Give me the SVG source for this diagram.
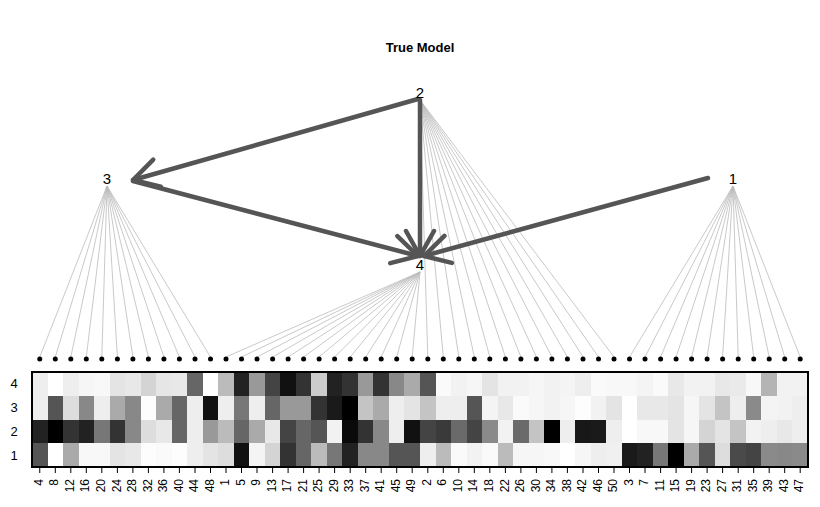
<svg xmlns="http://www.w3.org/2000/svg" width="820" height="507" viewBox="0 0 820 507">
<style>
text{font-family:"Liberation Sans",Arial,sans-serif;fill:#000}
.n{font-size:15px;text-anchor:middle}
.c{font-size:12px;text-anchor:end;dominant-baseline:middle}
.r{font-size:13px;text-anchor:middle;fill:#000}
.fl{stroke:#bbb;stroke-width:0.8}
.e{stroke:#555;stroke-width:4.5;fill:none;marker-end:url(#ah);stroke-linecap:round}
.t{stroke:#000;stroke-width:1}
</style>
<defs>
<marker id="ah" markerUnits="userSpaceOnUse" markerWidth="60" markerHeight="60" viewBox="-40 -30 60 60" refX="0" refY="0" orient="auto" overflow="visible">
<path d="M-25,-14 L0,0 L-25,14" stroke="#555" stroke-width="4.5" fill="none" stroke-linecap="round" stroke-linejoin="round"/>
</marker>
</defs>
<rect width="820" height="507" fill="#fff"/>
<text x="420" y="52" style="font-size:13px;font-weight:bold;text-anchor:middle">True Model</text>
<g id="fan-lines" class="fl">
<path d="M107,186L39.76,357M107,186L55.3,357M107,186L70.8,357M107,186L86.3,357M107,186L101.8,357M107,186L117.4,357M107,186L132.9,357M107,186L148.4,357M107,186L163.9,357M107,186L179.4,357M107,186L195,357M107,186L210.5,357"/>
<path d="M420,272L226,357M420,272L241.5,357M420,272L257,357M420,272L272.6,357M420,272L288.1,357M420,272L303.6,357M420,272L319.1,357M420,272L334.6,357M420,272L350.2,357M420,272L365.7,357M420,272L381.2,357M420,272L396.7,357M420,272L412.2,357"/>
<path d="M420,100L427.8,357M420,100L443.3,357M420,100L458.8,357M420,100L474.3,357M420,100L489.8,357M420,100L505.4,357M420,100L520.9,357M420,100L536.4,357M420,100L551.9,357M420,100L567.4,357M420,100L583,357M420,100L598.5,357M420,100L614,357"/>
<path d="M733,186L629.5,357M733,186L645,357M733,186L660.6,357M733,186L676.1,357M733,186L691.6,357M733,186L707.1,357M733,186L722.6,357M733,186L738.2,357M733,186L753.7,357M733,186L769.2,357M733,186L784.7,357M733,186L800.2,357"/>
</g>
<g id="connectors">
<line class="e" x1="418" y1="99" x2="133" y2="180"/>
<line class="e" x1="420" y1="100" x2="420" y2="256"/>
<line class="e" x1="133" y1="181" x2="418" y2="256"/>
<line class="e" x1="708" y1="178" x2="424" y2="256"/>
</g>
<g id="node-2"><text class="n" x="420" y="98">2</text></g>
<g id="node-3"><text class="n" x="107" y="184">3</text></g>
<g id="node-1"><text class="n" x="733" y="184">1</text></g>
<g id="node-4"><text class="n" x="420" y="270">4</text></g>
<g id="dots" fill="#000">
<circle cx="39.76" cy="359" r="2.5"/><circle cx="55.3" cy="359" r="2.5"/><circle cx="70.8" cy="359" r="2.5"/><circle cx="86.3" cy="359" r="2.5"/><circle cx="101.8" cy="359" r="2.5"/><circle cx="117.4" cy="359" r="2.5"/><circle cx="132.9" cy="359" r="2.5"/><circle cx="148.4" cy="359" r="2.5"/><circle cx="163.9" cy="359" r="2.5"/><circle cx="179.4" cy="359" r="2.5"/><circle cx="195" cy="359" r="2.5"/><circle cx="210.5" cy="359" r="2.5"/>
<circle cx="226" cy="359" r="2.5"/><circle cx="241.5" cy="359" r="2.5"/><circle cx="257" cy="359" r="2.5"/><circle cx="272.6" cy="359" r="2.5"/><circle cx="288.1" cy="359" r="2.5"/><circle cx="303.6" cy="359" r="2.5"/><circle cx="319.1" cy="359" r="2.5"/><circle cx="334.6" cy="359" r="2.5"/><circle cx="350.2" cy="359" r="2.5"/><circle cx="365.7" cy="359" r="2.5"/><circle cx="381.2" cy="359" r="2.5"/><circle cx="396.7" cy="359" r="2.5"/><circle cx="412.2" cy="359" r="2.5"/>
<circle cx="427.8" cy="359" r="2.5"/><circle cx="443.3" cy="359" r="2.5"/><circle cx="458.8" cy="359" r="2.5"/><circle cx="474.3" cy="359" r="2.5"/><circle cx="489.8" cy="359" r="2.5"/><circle cx="505.4" cy="359" r="2.5"/><circle cx="520.9" cy="359" r="2.5"/><circle cx="536.4" cy="359" r="2.5"/><circle cx="551.9" cy="359" r="2.5"/><circle cx="567.4" cy="359" r="2.5"/><circle cx="583" cy="359" r="2.5"/><circle cx="598.5" cy="359" r="2.5"/><circle cx="614" cy="359" r="2.5"/>
<circle cx="629.5" cy="359" r="2.5"/><circle cx="645" cy="359" r="2.5"/><circle cx="660.6" cy="359" r="2.5"/><circle cx="676.1" cy="359" r="2.5"/><circle cx="691.6" cy="359" r="2.5"/><circle cx="707.1" cy="359" r="2.5"/><circle cx="722.6" cy="359" r="2.5"/><circle cx="738.2" cy="359" r="2.5"/><circle cx="753.7" cy="359" r="2.5"/><circle cx="769.2" cy="359" r="2.5"/><circle cx="784.7" cy="359" r="2.5"/><circle cx="800.2" cy="359" r="2.5"/>
</g>
<g id="heatmap" shape-rendering="crispEdges">
<g transform="translate(32,0)"><rect y="372" width="15.6" height="23.8" fill="#eee"/><rect y="395.75" width="15.6" height="23.8" fill="#eee"/><rect y="419.5" width="15.6" height="23.8" fill="#222"/><rect y="443.25" width="15.6" height="23.8" fill="#555"/></g>
<g transform="translate(47.52,0)"><rect y="372" width="15.6" height="23.8" fill="#fff"/><rect y="395.75" width="15.6" height="23.8" fill="#555"/><rect y="419.5" width="15.6" height="23.8" fill="#000"/><rect y="443.25" width="15.6" height="23.8" fill="#fff"/></g>
<g transform="translate(63.04,0)"><rect y="372" width="15.6" height="23.8" fill="#eee"/><rect y="395.75" width="15.6" height="23.8" fill="#ddd"/><rect y="419.5" width="15.6" height="23.8" fill="#333"/><rect y="443.25" width="15.6" height="23.8" fill="#aaa"/></g>
<g transform="translate(78.56,0)"><rect y="372" width="15.6" height="23.8" fill="#f6f6f6"/><rect y="395.75" width="15.6" height="23.8" fill="#888"/><rect y="419.5" width="15.6" height="23.8" fill="#222"/><rect y="443.25" width="15.6" height="23.8" fill="#f8f8f8"/></g>
<g transform="translate(94.08,0)"><rect y="372" width="15.6" height="23.8" fill="#f8f8f8"/><rect y="395.75" width="15.6" height="23.8" fill="#eee"/><rect y="419.5" width="15.6" height="23.8" fill="#777"/><rect y="443.25" width="15.6" height="23.8" fill="#f8f8f8"/></g>
<g transform="translate(109.6,0)"><rect y="372" width="15.6" height="23.8" fill="#e4e4e4"/><rect y="395.75" width="15.6" height="23.8" fill="#aaa"/><rect y="419.5" width="15.6" height="23.8" fill="#333"/><rect y="443.25" width="15.6" height="23.8" fill="#e4e4e4"/></g>
<g transform="translate(125.12,0)"><rect y="372" width="15.6" height="23.8" fill="#e8e8e8"/><rect y="395.75" width="15.6" height="23.8" fill="#888"/><rect y="419.5" width="15.6" height="23.8" fill="#888"/><rect y="443.25" width="15.6" height="23.8" fill="#e8e8e8"/></g>
<g transform="translate(140.64,0)"><rect y="372" width="15.6" height="23.8" fill="#d4d4d4"/><rect y="395.75" width="15.6" height="23.8" fill="#fdfdfd"/><rect y="419.5" width="15.6" height="23.8" fill="#ddd"/><rect y="443.25" width="15.6" height="23.8" fill="#fdfdfd"/></g>
<g transform="translate(156.16,0)"><rect y="372" width="15.6" height="23.8" fill="#e6e6e6"/><rect y="395.75" width="15.6" height="23.8" fill="#aaa"/><rect y="419.5" width="15.6" height="23.8" fill="#e8e8e8"/><rect y="443.25" width="15.6" height="23.8" fill="#fafafa"/></g>
<g transform="translate(171.68,0)"><rect y="372" width="15.6" height="23.8" fill="#e8e8e8"/><rect y="395.75" width="15.6" height="23.8" fill="#666"/><rect y="419.5" width="15.6" height="23.8" fill="#666"/><rect y="443.25" width="15.6" height="23.8" fill="#fdfdfd"/></g>
<g transform="translate(187.2,0)"><rect y="372" width="15.6" height="23.8" fill="#666"/><rect y="395.75" width="15.6" height="23.8" fill="#eee"/><rect y="419.5" width="15.6" height="23.8" fill="#eee"/><rect y="443.25" width="15.6" height="23.8" fill="#eee"/></g>
<g transform="translate(202.72,0)"><rect y="372" width="15.6" height="23.8" fill="#fff"/><rect y="395.75" width="15.6" height="23.8" fill="#111"/><rect y="419.5" width="15.6" height="23.8" fill="#999"/><rect y="443.25" width="15.6" height="23.8" fill="#e4e4e4"/></g>
<g transform="translate(218.24,0)"><rect y="372" width="15.6" height="23.8" fill="#bbb"/><rect y="395.75" width="15.6" height="23.8" fill="#eee"/><rect y="419.5" width="15.6" height="23.8" fill="#bbb"/><rect y="443.25" width="15.6" height="23.8" fill="#ddd"/></g>
<g transform="translate(233.76,0)"><rect y="372" width="15.6" height="23.8" fill="#222"/><rect y="395.75" width="15.6" height="23.8" fill="#777"/><rect y="419.5" width="15.6" height="23.8" fill="#666"/><rect y="443.25" width="15.6" height="23.8" fill="#111"/></g>
<g transform="translate(249.28,0)"><rect y="372" width="15.6" height="23.8" fill="#999"/><rect y="395.75" width="15.6" height="23.8" fill="#eee"/><rect y="419.5" width="15.6" height="23.8" fill="#aaa"/><rect y="443.25" width="15.6" height="23.8" fill="#f4f4f4"/></g>
<g transform="translate(264.8,0)"><rect y="372" width="15.6" height="23.8" fill="#444"/><rect y="395.75" width="15.6" height="23.8" fill="#666"/><rect y="419.5" width="15.6" height="23.8" fill="#e8e8e8"/><rect y="443.25" width="15.6" height="23.8" fill="#d4d4d4"/></g>
<g transform="translate(280.32,0)"><rect y="372" width="15.6" height="23.8" fill="#111"/><rect y="395.75" width="15.6" height="23.8" fill="#999"/><rect y="419.5" width="15.6" height="23.8" fill="#444"/><rect y="443.25" width="15.6" height="23.8" fill="#333"/></g>
<g transform="translate(295.84,0)"><rect y="372" width="15.6" height="23.8" fill="#333"/><rect y="395.75" width="15.6" height="23.8" fill="#999"/><rect y="419.5" width="15.6" height="23.8" fill="#666"/><rect y="443.25" width="15.6" height="23.8" fill="#666"/></g>
<g transform="translate(311.36,0)"><rect y="372" width="15.6" height="23.8" fill="#ccc"/><rect y="395.75" width="15.6" height="23.8" fill="#333"/><rect y="419.5" width="15.6" height="23.8" fill="#555"/><rect y="443.25" width="15.6" height="23.8" fill="#bbb"/></g>
<g transform="translate(326.88,0)"><rect y="372" width="15.6" height="23.8" fill="#222"/><rect y="395.75" width="15.6" height="23.8" fill="#1a1a1a"/><rect y="419.5" width="15.6" height="23.8" fill="#f2f2f2"/><rect y="443.25" width="15.6" height="23.8" fill="#777"/></g>
<g transform="translate(342.4,0)"><rect y="372" width="15.6" height="23.8" fill="#333"/><rect y="395.75" width="15.6" height="23.8" fill="#000"/><rect y="419.5" width="15.6" height="23.8" fill="#0a0a0a"/><rect y="443.25" width="15.6" height="23.8" fill="#222"/></g>
<g transform="translate(357.92,0)"><rect y="372" width="15.6" height="23.8" fill="#999"/><rect y="395.75" width="15.6" height="23.8" fill="#c4c4c4"/><rect y="419.5" width="15.6" height="23.8" fill="#333"/><rect y="443.25" width="15.6" height="23.8" fill="#888"/></g>
<g transform="translate(373.44,0)"><rect y="372" width="15.6" height="23.8" fill="#333"/><rect y="395.75" width="15.6" height="23.8" fill="#aaa"/><rect y="419.5" width="15.6" height="23.8" fill="#888"/><rect y="443.25" width="15.6" height="23.8" fill="#888"/></g>
<g transform="translate(388.96,0)"><rect y="372" width="15.6" height="23.8" fill="#888"/><rect y="395.75" width="15.6" height="23.8" fill="#eee"/><rect y="419.5" width="15.6" height="23.8" fill="#eee"/><rect y="443.25" width="15.6" height="23.8" fill="#555"/></g>
<g transform="translate(404.48,0)"><rect y="372" width="15.6" height="23.8" fill="#aaa"/><rect y="395.75" width="15.6" height="23.8" fill="#e4e4e4"/><rect y="419.5" width="15.6" height="23.8" fill="#111"/><rect y="443.25" width="15.6" height="23.8" fill="#555"/></g>
<g transform="translate(420,0)"><rect y="372" width="15.6" height="23.8" fill="#555"/><rect y="395.75" width="15.6" height="23.8" fill="#c4c4c4"/><rect y="419.5" width="15.6" height="23.8" fill="#444"/><rect y="443.25" width="15.6" height="23.8" fill="#eee"/></g>
<g transform="translate(435.52,0)"><rect y="372" width="15.6" height="23.8" fill="#fafafa"/><rect y="395.75" width="15.6" height="23.8" fill="#eee"/><rect y="419.5" width="15.6" height="23.8" fill="#3a3a3a"/><rect y="443.25" width="15.6" height="23.8" fill="#bbb"/></g>
<g transform="translate(451.04,0)"><rect y="372" width="15.6" height="23.8" fill="#f2f2f2"/><rect y="395.75" width="15.6" height="23.8" fill="#eee"/><rect y="419.5" width="15.6" height="23.8" fill="#6a6a6a"/><rect y="443.25" width="15.6" height="23.8" fill="#fafafa"/></g>
<g transform="translate(466.56,0)"><rect y="372" width="15.6" height="23.8" fill="#f6f6f6"/><rect y="395.75" width="15.6" height="23.8" fill="#555"/><rect y="419.5" width="15.6" height="23.8" fill="#444"/><rect y="443.25" width="15.6" height="23.8" fill="#f2f2f2"/></g>
<g transform="translate(482.08,0)"><rect y="372" width="15.6" height="23.8" fill="#e4e4e4"/><rect y="395.75" width="15.6" height="23.8" fill="#f4f4f4"/><rect y="419.5" width="15.6" height="23.8" fill="#8a8a8a"/><rect y="443.25" width="15.6" height="23.8" fill="#fafafa"/></g>
<g transform="translate(497.6,0)"><rect y="372" width="15.6" height="23.8" fill="#f2f2f2"/><rect y="395.75" width="15.6" height="23.8" fill="#e8e8e8"/><rect y="419.5" width="15.6" height="23.8" fill="#f2f2f2"/><rect y="443.25" width="15.6" height="23.8" fill="#bbb"/></g>
<g transform="translate(513.12,0)"><rect y="372" width="15.6" height="23.8" fill="#f2f2f2"/><rect y="395.75" width="15.6" height="23.8" fill="#fafafa"/><rect y="419.5" width="15.6" height="23.8" fill="#6a6a6a"/><rect y="443.25" width="15.6" height="23.8" fill="#f6f6f6"/></g>
<g transform="translate(528.64,0)"><rect y="372" width="15.6" height="23.8" fill="#f6f6f6"/><rect y="395.75" width="15.6" height="23.8" fill="#f6f6f6"/><rect y="419.5" width="15.6" height="23.8" fill="#c4c4c4"/><rect y="443.25" width="15.6" height="23.8" fill="#f6f6f6"/></g>
<g transform="translate(544.16,0)"><rect y="372" width="15.6" height="23.8" fill="#f2f2f2"/><rect y="395.75" width="15.6" height="23.8" fill="#f2f2f2"/><rect y="419.5" width="15.6" height="23.8" fill="#000"/><rect y="443.25" width="15.6" height="23.8" fill="#f8f8f8"/></g>
<g transform="translate(559.68,0)"><rect y="372" width="15.6" height="23.8" fill="#f4f4f4"/><rect y="395.75" width="15.6" height="23.8" fill="#f6f6f6"/><rect y="419.5" width="15.6" height="23.8" fill="#eee"/><rect y="443.25" width="15.6" height="23.8" fill="#fff"/></g>
<g transform="translate(575.2,0)"><rect y="372" width="15.6" height="23.8" fill="#eee"/><rect y="395.75" width="15.6" height="23.8" fill="#fdfdfd"/><rect y="419.5" width="15.6" height="23.8" fill="#181818"/><rect y="443.25" width="15.6" height="23.8" fill="#f6f6f6"/></g>
<g transform="translate(590.72,0)"><rect y="372" width="15.6" height="23.8" fill="#fafafa"/><rect y="395.75" width="15.6" height="23.8" fill="#f2f2f2"/><rect y="419.5" width="15.6" height="23.8" fill="#1a1a1a"/><rect y="443.25" width="15.6" height="23.8" fill="#eee"/></g>
<g transform="translate(606.24,0)"><rect y="372" width="15.6" height="23.8" fill="#f8f8f8"/><rect y="395.75" width="15.6" height="23.8" fill="#e4e4e4"/><rect y="419.5" width="15.6" height="23.8" fill="#eee"/><rect y="443.25" width="15.6" height="23.8" fill="#f0f0f0"/></g>
<g transform="translate(621.76,0)"><rect y="372" width="15.6" height="23.8" fill="#f8f8f8"/><rect y="395.75" width="15.6" height="23.8" fill="#fff"/><rect y="419.5" width="15.6" height="23.8" fill="#fff"/><rect y="443.25" width="15.6" height="23.8" fill="#1a1a1a"/></g>
<g transform="translate(637.28,0)"><rect y="372" width="15.6" height="23.8" fill="#f4f4f4"/><rect y="395.75" width="15.6" height="23.8" fill="#e8e8e8"/><rect y="419.5" width="15.6" height="23.8" fill="#f8f8f8"/><rect y="443.25" width="15.6" height="23.8" fill="#222"/></g>
<g transform="translate(652.8,0)"><rect y="372" width="15.6" height="23.8" fill="#fafafa"/><rect y="395.75" width="15.6" height="23.8" fill="#e8e8e8"/><rect y="419.5" width="15.6" height="23.8" fill="#f8f8f8"/><rect y="443.25" width="15.6" height="23.8" fill="#777"/></g>
<g transform="translate(668.32,0)"><rect y="372" width="15.6" height="23.8" fill="#e8e8e8"/><rect y="395.75" width="15.6" height="23.8" fill="#e4e4e4"/><rect y="419.5" width="15.6" height="23.8" fill="#e4e4e4"/><rect y="443.25" width="15.6" height="23.8" fill="#000"/></g>
<g transform="translate(683.84,0)"><rect y="372" width="15.6" height="23.8" fill="#f2f2f2"/><rect y="395.75" width="15.6" height="23.8" fill="#f6f6f6"/><rect y="419.5" width="15.6" height="23.8" fill="#f6f6f6"/><rect y="443.25" width="15.6" height="23.8" fill="#aaa"/></g>
<g transform="translate(699.36,0)"><rect y="372" width="15.6" height="23.8" fill="#f2f2f2"/><rect y="395.75" width="15.6" height="23.8" fill="#e4e4e4"/><rect y="419.5" width="15.6" height="23.8" fill="#d4d4d4"/><rect y="443.25" width="15.6" height="23.8" fill="#555"/></g>
<g transform="translate(714.88,0)"><rect y="372" width="15.6" height="23.8" fill="#e8e8e8"/><rect y="395.75" width="15.6" height="23.8" fill="#c4c4c4"/><rect y="419.5" width="15.6" height="23.8" fill="#e4e4e4"/><rect y="443.25" width="15.6" height="23.8" fill="#ddd"/></g>
<g transform="translate(730.4,0)"><rect y="372" width="15.6" height="23.8" fill="#eaeaea"/><rect y="395.75" width="15.6" height="23.8" fill="#eee"/><rect y="419.5" width="15.6" height="23.8" fill="#c4c4c4"/><rect y="443.25" width="15.6" height="23.8" fill="#4a4a4a"/></g>
<g transform="translate(745.92,0)"><rect y="372" width="15.6" height="23.8" fill="#f8f8f8"/><rect y="395.75" width="15.6" height="23.8" fill="#8a8a8a"/><rect y="419.5" width="15.6" height="23.8" fill="#f2f2f2"/><rect y="443.25" width="15.6" height="23.8" fill="#444"/></g>
<g transform="translate(761.44,0)"><rect y="372" width="15.6" height="23.8" fill="#b4b4b4"/><rect y="395.75" width="15.6" height="23.8" fill="#f4f4f4"/><rect y="419.5" width="15.6" height="23.8" fill="#eee"/><rect y="443.25" width="15.6" height="23.8" fill="#8a8a8a"/></g>
<g transform="translate(776.96,0)"><rect y="372" width="15.6" height="23.8" fill="#f2f2f2"/><rect y="395.75" width="15.6" height="23.8" fill="#f2f2f2"/><rect y="419.5" width="15.6" height="23.8" fill="#e8e8e8"/><rect y="443.25" width="15.6" height="23.8" fill="#888"/></g>
<g transform="translate(792.48,0)"><rect y="372" width="15.52" height="23.8" fill="#f2f2f2"/><rect y="395.75" width="15.52" height="23.8" fill="#eee"/><rect y="419.5" width="15.52" height="23.8" fill="#eee"/><rect y="443.25" width="15.52" height="23.8" fill="#8a8a8a"/></g>
<rect x="32" y="372" width="776" height="95" fill="none" stroke="#000" stroke-width="1.5"/>
</g>
<g id="row-labels">
<text class="r" x="14" y="388">4</text><text class="r" x="14" y="412">3</text><text class="r" x="14" y="436">2</text><text class="r" x="14" y="460">1</text>
</g>
<g id="ticks" class="t">
<path d="M39.76,467v6M55.3,467v6M70.8,467v6M86.3,467v6M101.8,467v6M117.4,467v6M132.9,467v6M148.4,467v6M163.9,467v6M179.4,467v6M195,467v6M210.5,467v6M226,467v6M241.5,467v6M257,467v6M272.6,467v6M288.1,467v6M303.6,467v6M319.1,467v6M334.6,467v6M350.2,467v6M365.7,467v6M381.2,467v6M396.7,467v6M412.2,467v6M427.8,467v6M443.3,467v6M458.8,467v6M474.3,467v6M489.8,467v6M505.4,467v6M520.9,467v6M536.4,467v6M551.9,467v6M567.4,467v6M583,467v6M598.5,467v6M614,467v6M629.5,467v6M645,467v6M660.6,467v6M676.1,467v6M691.6,467v6M707.1,467v6M722.6,467v6M738.2,467v6M753.7,467v6M769.2,467v6M784.7,467v6M800.2,467v6"/>
</g>
<g id="col-labels">
<text class="c" transform="translate(39.76,479) rotate(-90)">4</text>
<text class="c" transform="translate(55.3,479) rotate(-90)">8</text>
<text class="c" transform="translate(70.8,479) rotate(-90)">12</text>
<text class="c" transform="translate(86.3,479) rotate(-90)">16</text>
<text class="c" transform="translate(101.8,479) rotate(-90)">20</text>
<text class="c" transform="translate(117.4,479) rotate(-90)">24</text>
<text class="c" transform="translate(132.9,479) rotate(-90)">28</text>
<text class="c" transform="translate(148.4,479) rotate(-90)">32</text>
<text class="c" transform="translate(163.9,479) rotate(-90)">36</text>
<text class="c" transform="translate(179.4,479) rotate(-90)">40</text>
<text class="c" transform="translate(195,479) rotate(-90)">44</text>
<text class="c" transform="translate(210.5,479) rotate(-90)">48</text>
<text class="c" transform="translate(226,479) rotate(-90)">1</text>
<text class="c" transform="translate(241.5,479) rotate(-90)">5</text>
<text class="c" transform="translate(257,479) rotate(-90)">9</text>
<text class="c" transform="translate(272.6,479) rotate(-90)">13</text>
<text class="c" transform="translate(288.1,479) rotate(-90)">17</text>
<text class="c" transform="translate(303.6,479) rotate(-90)">21</text>
<text class="c" transform="translate(319.1,479) rotate(-90)">25</text>
<text class="c" transform="translate(334.6,479) rotate(-90)">29</text>
<text class="c" transform="translate(350.2,479) rotate(-90)">33</text>
<text class="c" transform="translate(365.7,479) rotate(-90)">37</text>
<text class="c" transform="translate(381.2,479) rotate(-90)">41</text>
<text class="c" transform="translate(396.7,479) rotate(-90)">45</text>
<text class="c" transform="translate(412.2,479) rotate(-90)">49</text>
<text class="c" transform="translate(427.8,479) rotate(-90)">2</text>
<text class="c" transform="translate(443.3,479) rotate(-90)">6</text>
<text class="c" transform="translate(458.8,479) rotate(-90)">10</text>
<text class="c" transform="translate(474.3,479) rotate(-90)">14</text>
<text class="c" transform="translate(489.8,479) rotate(-90)">18</text>
<text class="c" transform="translate(505.4,479) rotate(-90)">22</text>
<text class="c" transform="translate(520.9,479) rotate(-90)">26</text>
<text class="c" transform="translate(536.4,479) rotate(-90)">30</text>
<text class="c" transform="translate(551.9,479) rotate(-90)">34</text>
<text class="c" transform="translate(567.4,479) rotate(-90)">38</text>
<text class="c" transform="translate(583,479) rotate(-90)">42</text>
<text class="c" transform="translate(598.5,479) rotate(-90)">46</text>
<text class="c" transform="translate(614,479) rotate(-90)">50</text>
<text class="c" transform="translate(629.5,479) rotate(-90)">3</text>
<text class="c" transform="translate(645,479) rotate(-90)">7</text>
<text class="c" transform="translate(660.6,479) rotate(-90)">11</text>
<text class="c" transform="translate(676.1,479) rotate(-90)">15</text>
<text class="c" transform="translate(691.6,479) rotate(-90)">19</text>
<text class="c" transform="translate(707.1,479) rotate(-90)">23</text>
<text class="c" transform="translate(722.6,479) rotate(-90)">27</text>
<text class="c" transform="translate(738.2,479) rotate(-90)">31</text>
<text class="c" transform="translate(753.7,479) rotate(-90)">35</text>
<text class="c" transform="translate(769.2,479) rotate(-90)">39</text>
<text class="c" transform="translate(784.7,479) rotate(-90)">43</text>
<text class="c" transform="translate(800.2,479) rotate(-90)">47</text>
</g>
</svg>
